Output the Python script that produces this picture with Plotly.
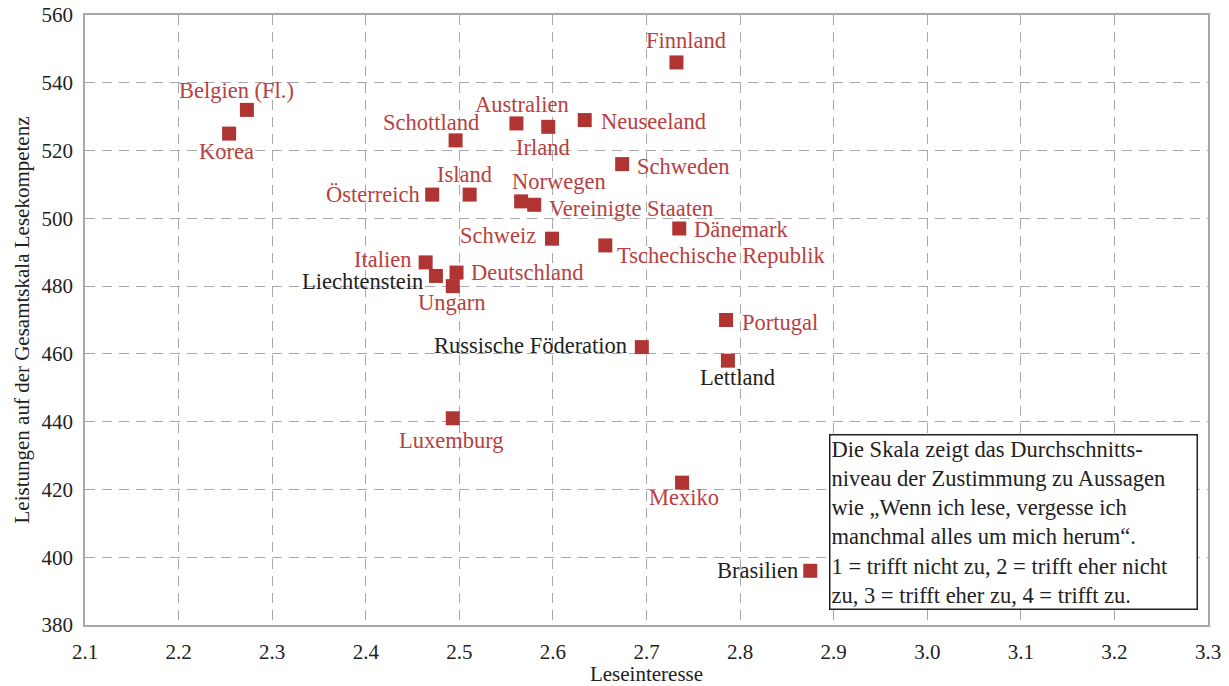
import plotly.graph_objects as go

# PISA: Leseinteresse vs. Gesamtskala Lesekompetenz
countries = [
    "Finnland", "Belgien (Fl.)", "Korea", "Schottland", "Australien", "Irland",
    "Neuseeland", "Schweden", "Österreich", "Island", "Norwegen",
    "Vereinigte Staaten", "Dänemark", "Schweiz", "Tschechische Republik",
    "Italien", "Liechtenstein", "Deutschland", "Ungarn", "Russische Föderation",
    "Luxemburg", "Portugal", "Lettland", "Mexiko", "Brasilien",
]
interesse = [
    2.732, 2.273, 2.254, 2.496, 2.561, 2.595,
    2.634, 2.674, 2.471, 2.511, 2.566,
    2.580, 2.735, 2.599, 2.656,
    2.464, 2.475, 2.497, 2.493, 2.695,
    2.493, 2.785, 2.787, 2.738, 2.875,
]
lesekompetenz = [
    546, 532, 525, 523, 528, 527,
    529, 516, 507, 507, 505,
    504, 497, 494, 492,
    487, 483, 484, 480, 462,
    441, 470, 458, 422, 396,
]
# countries whose label is printed in black
black_labels = ["Liechtenstein", "Russische Föderation", "Lettland", "Brasilien"]

note = ("Die Skala zeigt das Durchschnitts-<br>"
        "niveau der Zustimmung zu Aussagen<br>"
        "wie „Wenn ich lese, vergesse ich<br>"
        "manchmal alles um mich herum“.<br>"
        "1 = trifft nicht zu, 2 = trifft eher nicht<br>"
        "zu, 3 = trifft eher zu, 4 = trifft zu.")

RED = "#b03532"
RED_TXT = "#b8403e"
DARK = "#222222"
FONT = "Liberation Serif"

# label placement: xanchor, dx, dy (pixels, dy downwards)
place = {
    "Finnland": ("center", 10, -22),
    "Belgien (Fl.)": ("center", -10, -19),
    "Korea": ("center", -3, 18),
    "Schottland": ("center", -25, -18),
    "Australien": ("center", 6, -19),
    "Irland": ("center", -5, 21),
    "Neuseeland": ("left", 14, 1),
    "Schweden": ("left", 13, 2),
    "Österreich": ("right", -10, 0),
    "Island": ("center", -5, -20),
    "Norwegen": ("center", 38, -20),
    "Vereinigte Staaten": ("left", 13, 4),
    "Dänemark": ("left", 13, 1),
    "Schweiz": ("right", -14, -3),
    "Tschechische Republik": ("left", 10, 10),
    "Italien": ("right", -13, -3),
    "Liechtenstein": ("right", -11, 6),
    "Deutschland": ("left", 12, 0),
    "Ungarn": ("center", -1, 16),
    "Russische Föderation": ("right", -13, -2),
    "Luxemburg": ("center", -1, 22),
    "Portugal": ("left", 14, 2),
    "Lettland": ("center", 10, 17),
    "Mexiko": ("center", 2, 15),
    "Brasilien": ("right", -10, 0),
}

fig = go.Figure()
fig.add_trace(go.Scatter(
    x=interesse, y=lesekompetenz, mode="markers",
    marker=dict(symbol="square", size=14, color=RED, line=dict(width=0)),
    hovertext=countries, showlegend=False,
))

annotations = []
for name, xv, yv in zip(countries, interesse, lesekompetenz):
    xa, dx, dy = place[name]
    annotations.append(dict(
        x=xv, y=yv, xref="x", yref="y", text=name, showarrow=False,
        xanchor=xa, yanchor="middle", xshift=dx, yshift=-dy,
        font=dict(family=FONT, size=22.5, color=DARK if name in black_labels else RED_TXT),
    ))

annotations.append(dict(
    x=0.6625, y=0.313, xref="paper", yref="paper", text=note, showarrow=False,
    xanchor="left", yanchor="top", align="left", width=364,
    font=dict(family=FONT, size=22.5, color=DARK),
    bgcolor="white", bordercolor=DARK, borderwidth=1.5, borderpad=1,
))

fig.update_layout(
    width=1229, height=686,
    margin=dict(l=85, r=21, t=15, b=61),
    paper_bgcolor="white", plot_bgcolor="white",
    font=dict(family=FONT, size=21, color=DARK),
    annotations=annotations,
)
fig.update_xaxes(
    range=[2.1, 3.3], dtick=0.1, tick0=2.1, tickformat=".1f",
    showgrid=True, gridcolor="#a8a8a8", griddash="10px,7px", gridwidth=1,
    showline=True, linecolor="#a8a8a8", linewidth=1.5, mirror=True,
    ticks="", ticklabelstandoff=7, zeroline=False, automargin=False,
    ticklabeloverflow="allow",
    title=dict(text="Leseinteresse", standoff=3, font=dict(size=21)),
)
fig.update_yaxes(
    range=[380, 560], dtick=20, tick0=380,
    showgrid=True, gridcolor="#a8a8a8", griddash="10px,7px", gridwidth=1,
    showline=True, linecolor="#a8a8a8", linewidth=1.5, mirror=True,
    ticks="", ticklabelstandoff=6, zeroline=False, automargin=False,
    ticklabeloverflow="allow",
    title=dict(text="Leistungen auf der Gesamtskala Lesekompetenz", standoff=6, font=dict(size=21)),
)

# drop the default 8px page margin so the figure fills the window exactly
fig.write_html("out.html", config={"displayModeBar": False},
               post_script="document.body.style.margin='0';")
